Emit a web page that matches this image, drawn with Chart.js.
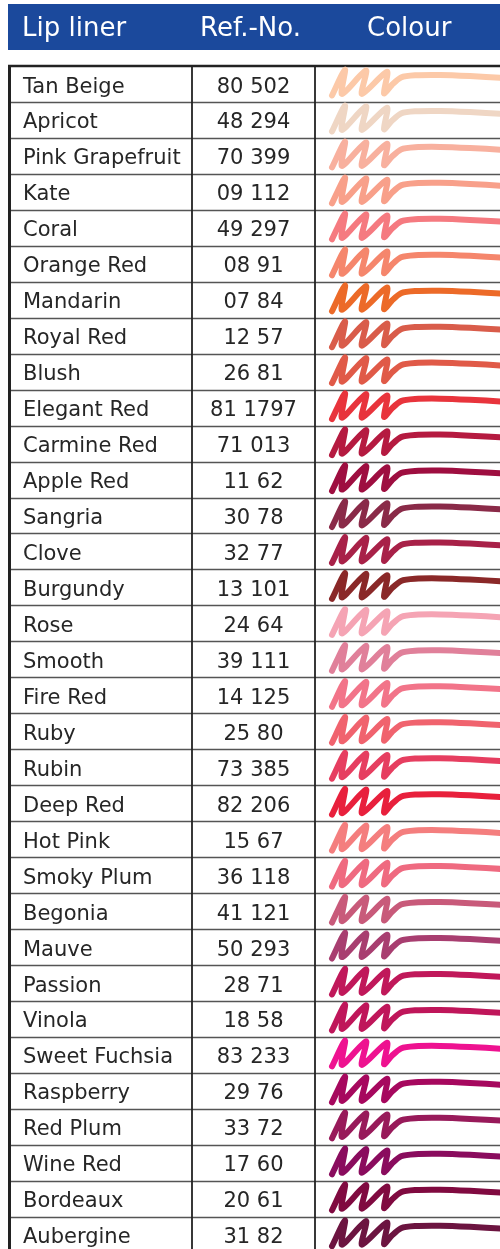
<!DOCTYPE html>
<html><head><meta charset="utf-8">
<script src="https://cdn.jsdelivr.net/npm/chart.js@4/dist/chart.umd.min.js"></script>
<style>html,body{margin:0;padding:0;background:#fff}canvas{display:block}</style>
</head><body>
<canvas id="c" width="500" height="1249"></canvas>
<script>
// ---- data ----
const headers = ["Lip liner", "Ref.-No.", "Colour"];
const names = ["Tan Beige","Apricot","Pink Grapefruit","Kate","Coral","Orange Red","Mandarin","Royal Red","Blush","Elegant Red","Carmine Red","Apple Red","Sangria","Clove","Burgundy","Rose","Smooth","Fire Red","Ruby","Rubin","Deep Red","Hot Pink","Smoky Plum","Begonia","Mauve","Passion","Vinola","Sweet Fuchsia","Raspberry","Red Plum","Wine Red","Bordeaux","Aubergine"];
const refNos = ["80 502","48 294","70 399","09 112","49 297","08 91","07 84","12 57","26 81","81 1797","71 013","11 62","30 78","32 77","13 101","24 64","39 111","14 125","25 80","73 385","82 206","15 67","36 118","41 121","50 293","28 71","18 58","83 233","29 76","33 72","17 60","20 61","31 82"];
const colours = ["#fcc9a8","#efd6c4","#f8b09e","#f8a08a","#f57a80","#f5866c","#ec6a28","#d95c4a","#e05a48","#e8343c","#b51a40","#9e0e40","#8a2a48","#a82148","#8a2828","#f5a4b4","#e0809a","#f27489","#f0636e","#e63e60","#e8203c","#f47e7e","#ef6a80","#c85a7a","#a83e70","#c0185a","#bf165a","#ee1290","#a6085e","#981a5a","#8a0c5e","#800a40","#6c1440"];
// swatch stroke template (x in page px, y as fraction of row)
const swatchX = [332, 345, 342, 366, 362, 387, 384, 392, 401, 415, 440, 470, 502];
const swatchY = [0.82, 0.10, 0.78, 0.12, 0.78, 0.16, 0.76, 0.52, 0.32, 0.26, 0.25, 0.28, 0.33];

// ---- layout ----
const W = 500, H = 1249, TOP = 66, ROW = 35.96;
const yMin = -TOP / ROW, yMax = (H - TOP) / ROW;
const FONT = '"Century Gothic","DejaVu Sans",sans-serif';

const datasets = names.map((n, r) => ({
  label: n,
  data: swatchX.map((x, i) => ({ x: x, y: r + swatchY[i] })),
  borderColor: colours[r],
  backgroundColor: colours[r],
  borderWidth: 6,
  borderCapStyle: 'round',
  borderJoinStyle: 'round',
  pointRadius: 0,
  showLine: true,
  tension: 0.25,
  fill: false
}));

const tablePlugin = {
  id: 'table',
  beforeDatasetsDraw(chart) {
    const ctx = chart.ctx, xs = chart.scales.x, ys = chart.scales.y;
    const X = v => xs.getPixelForValue(v), Y = v => ys.getPixelForValue(v);
    ctx.save();
    // header bar
    ctx.fillStyle = '#1b499c';
    ctx.fillRect(X(8), Y(yMin) + 4, X(500) - X(8), 46);
    ctx.fillStyle = '#ffffff';
    ctx.font = '26px ' + FONT;
    ctx.textBaseline = 'alphabetic';
    ctx.textAlign = 'left';
    ctx.fillText(headers[0], 22, 36);
    ctx.fillText(headers[1], 200, 36);
    ctx.fillText(headers[2], 367, 36);
    // row lines
    ctx.strokeStyle = '#555';
    ctx.lineWidth = 1.6;
    for (let r = 1; r <= names.length; r++) {
      const y = Math.round(Y(r)) + 0.5;
      ctx.beginPath(); ctx.moveTo(X(9), y); ctx.lineTo(X(500), y); ctx.stroke();
    }
    // top border
    ctx.strokeStyle = '#222';
    ctx.lineWidth = 2.6;
    ctx.beginPath(); ctx.moveTo(X(8), Y(0)); ctx.lineTo(X(500), Y(0)); ctx.stroke();
    // left border
    ctx.lineWidth = 3;
    ctx.beginPath(); ctx.moveTo(X(9.5), Y(0) - 1); ctx.lineTo(X(9.5), H); ctx.stroke();
    // column dividers
    ctx.lineWidth = 1.8;
    [192, 315].forEach(cx => {
      ctx.beginPath(); ctx.moveTo(X(cx), Y(0)); ctx.lineTo(X(cx), H); ctx.stroke();
    });
    // cell texts
    ctx.fillStyle = '#262626';
    ctx.font = '21px ' + FONT;
    names.forEach((n, r) => {
      const base = Y(r) + 26.5;
      ctx.textAlign = 'left';
      ctx.fillText(n, 23, base);
      ctx.textAlign = 'center';
      ctx.fillText(refNos[r], 253.5, base);
    });
    ctx.restore();
  }
};

new Chart(document.getElementById('c'), {
  type: 'scatter',
  data: { datasets },
  options: {
    responsive: false,
    animation: false,
    devicePixelRatio: 1,
    layout: { padding: 0 },
    plugins: { legend: { display: false }, tooltip: { enabled: false } },
    scales: {
      x: { type: 'linear', min: 0, max: W, display: false },
      y: { type: 'linear', min: yMin, max: yMax, reverse: true, display: false }
    }
  },
  plugins: [tablePlugin]
});
</script>
</body></html>
